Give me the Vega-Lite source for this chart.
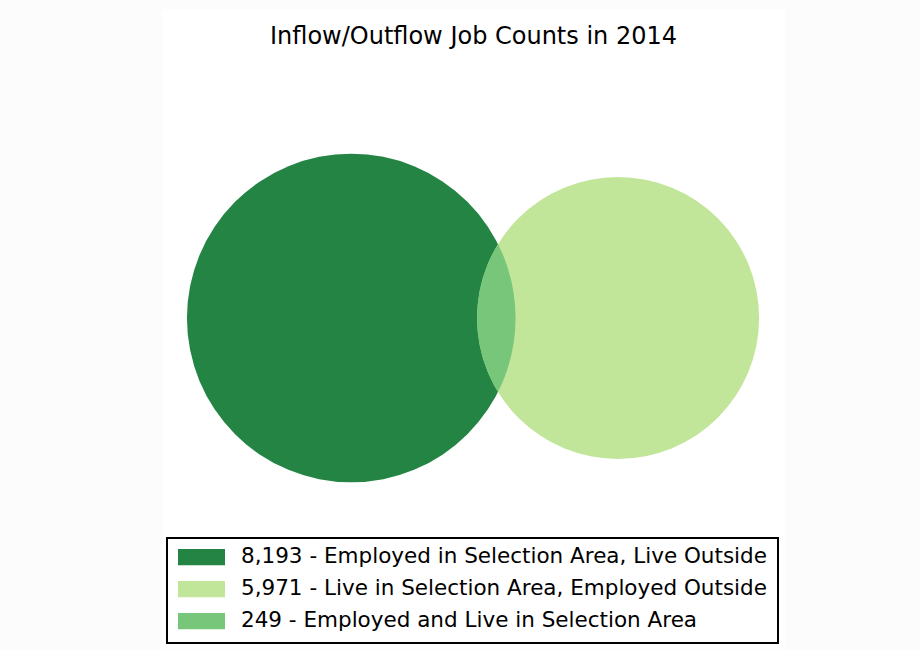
{
  "$schema": "https://vega.github.io/schema/vega-lite/v6.json",
  "width": 623,
  "height": 640,
  "autosize": {"type": "none"},
  "padding": {"left": 162, "top": 9, "right": 135, "bottom": 1},
  "background": "#fcfcfc",
  "view": {"fill": "white", "stroke": null},
  "title": {
    "text": "Inflow/Outflow Job Counts in 2014",
    "font": "DejaVu Sans",
    "fontSize": 24,
    "fontWeight": "normal",
    "color": "#000000",
    "anchor": "middle",
    "baseline": "alphabetic",
    "offset": -58.5
  },
  "data": {
    "values": [
      {"region": "A", "label": "8,193 - Employed in Selection Area, Live Outside", "count": 8193, "setTotal": 8442, "x": -0.3217, "y": 0.0289},
      {"region": "B", "label": "5,971 - Live in Selection Area, Employed Outside", "count": 5971, "setTotal": 6220, "x": 0.3805, "y": 0.0289},
      {"region": "AB", "label": "249 - Employed and Live in Selection Area", "count": 249, "setTotal": 249, "x": 0.0645, "y": 0.0289}
    ]
  },
  "encoding": {
    "x": {"field": "x", "type": "quantitative", "axis": null, "scale": {"domain": [-0.8197, 0.8197], "nice": false, "zero": false}},
    "y": {"field": "y", "type": "quantitative", "axis": null, "scale": {"domain": [-0.8421, 0.8421], "nice": false, "zero": false}},
    "color": {
      "field": "label",
      "type": "nominal",
      "scale": {
        "domain": ["8,193 - Employed in Selection Area, Live Outside", "5,971 - Live in Selection Area, Employed Outside", "249 - Employed and Live in Selection Area"],
        "range": ["#238443", "#c2e699", "#78c679"]
      },
      "legend": {
        "title": null,
        "orient": "none",
        "legendX": 5,
        "legendY": 529,
        "symbolType": "M-1,-0.35L1,-0.35L1,0.35L-1,0.35Z",
        "symbolSize": 2209,
        "symbolStrokeWidth": 0,
        "symbolOpacity": 1,
        "clipHeight": 16,
        "rowPadding": 10,
        "labelFont": "DejaVu Sans",
        "labelFontSize": 21.5,
        "labelColor": "#000000",
        "labelLimit": 1000,
        "labelOffset": 16,
        "padding": 11,
        "fillColor": "white",
        "strokeColor": "#000000",
        "encode": {"legend": {"update": {"strokeWidth": {"value": 2}}}}
      }
    }
  },
  "layer": [
    {
      "transform": [{"filter": "datum.region !== 'AB'"}],
      "mark": {"type": "point", "shape": "circle", "filled": true, "opacity": 1, "strokeWidth": 0},
      "encoding": {
        "size": {"field": "setTotal", "type": "quantitative", "legend": null, "scale": {"domain": [0, 8442], "range": [0, 107978], "zero": true}}
      }
    },
    {
      "transform": [{"filter": "datum.region === 'AB'"}],
      "mark": {"type": "point", "shape": "M0,-0.985A2.1907,2.1907 0 0 1 0,0.985A1.88,1.88 0 0 1 0,-0.985Z", "filled": true, "opacity": 1, "strokeWidth": 0, "size": 22500}
    }
  ]
}
